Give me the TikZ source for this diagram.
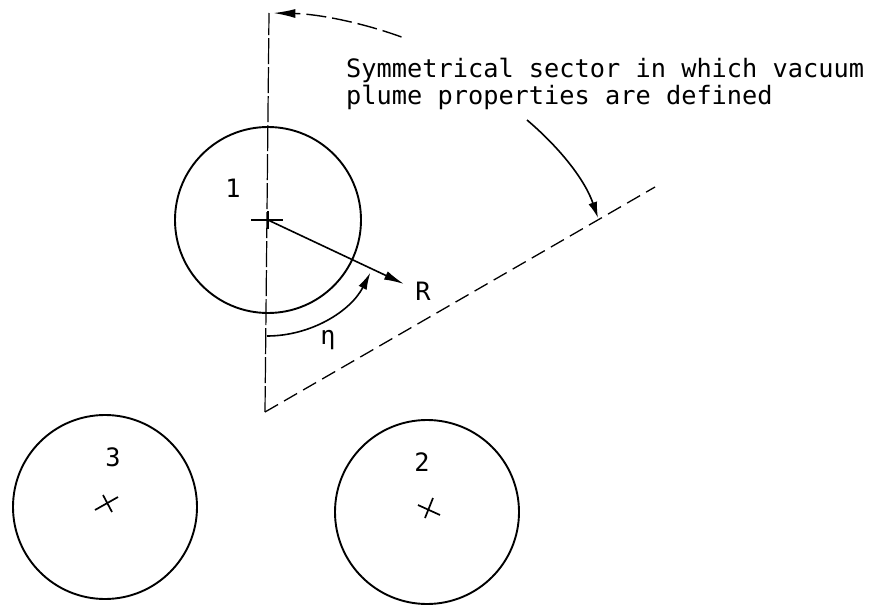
\documentclass[tikz,border=0pt]{standalone}
\usepackage{fontspec}
\setmainfont{DejaVu Sans Mono}
\usetikzlibrary{arrows.meta}
\begin{document}
\begin{tikzpicture}[x=1pt,y=-1pt,
  circ/.style={line width=1.9pt},
  lbl/.style={font=\fontsize{25.3}{27}\selectfont, inner sep=0pt},
  centremark/.style={line width=1.7pt},
  dart/.style={-{Latex[length=#1,width=9pt]}},
  solidarrow/.style={line width=1.6pt,dart=20pt},
  sectorline/.style={line width=1.3pt,dash pattern=on 15pt off 7pt},
  axisline/.style={line width=1.2pt,dash pattern=on 26pt off 3pt},
]
\useasboundingbox (0,0) rectangle (869,607);
% key points
\coordinate (V) at (265,412);
\coordinate (Top) at (269,13);
\coordinate (C1) at (268,220);
\coordinate (C2) at (427,512);
\coordinate (C3) at (105,507);
\coordinate (SecEnd) at (655,187);
\coordinate (Rtip) at (404,284);
\coordinate (EtaStart) at (267,336);
\coordinate (TopArcStart) at (401.5,37);
\coordinate (PtrStart) at (527,120);
\coordinate (PtrTip) at (598,218);

% sector boundaries
\draw[axisline] (V) -- (Top);
\draw[sectorline] (V) -- (SecEnd);

% circles
\draw[circ] (C1) circle[radius=93];
\draw[circ] (C2) circle[radius=92];
\draw[circ] (C3) circle[radius=92];

% centre marks
\draw[centremark] (251,220) -- (283,220);
\draw[centremark] (268,211) -- (268,229);
\draw[centremark] (95,510) -- (118,497);
\draw[centremark] (103,495) -- (112,512);
\draw[centremark] (418,505) -- (440,515);
\draw[centremark] (433,498) -- (425,518);

% labels
\node[lbl] (n1) at (233,188) {1};
\node[lbl] (n2) at (422,462) {2};
\node[lbl] (n3) at (113,457) {3};
\node[lbl] (eta) at (328,340) {η};
\node[lbl] (R) at (423,291) {R};
\node[lbl, anchor=base west] (t1) at (346,78) {Symmetrical sector in which vacuum};
\node[lbl, anchor=base west] (t2) at (346,105) {plume properties are defined};

% radius R
\draw[solidarrow] (C1) -- (Rtip);
% angle eta
\draw[line width=1.6pt,dart=17pt] (EtaStart) arc[start angle=90, end angle=27, radius=116];
% top arc (sector extent)
\draw[line width=1.4pt,dash pattern=on 20pt off 6pt,dart=22pt] (TopArcStart) arc[start angle=-70, end angle=-88.8, radius=399];
% pointer from text to sector boundary
\draw[line width=1.6pt,dart=16pt] (PtrStart) .. controls (560,148) and (585,180) .. (PtrTip);
\end{tikzpicture}
\end{document}
